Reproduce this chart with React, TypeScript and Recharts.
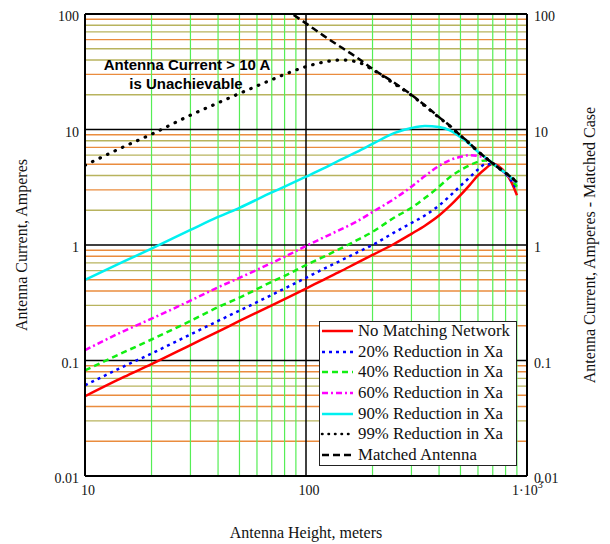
import { LineChart, Line, XAxis, YAxis, ReferenceLine } from 'recharts';

// antenna height (m)
const heights = [10, 15, 20, 30, 40, 50, 70, 80, 100, 120, 143, 170, 200, 250, 300, 345, 400, 450, 500, 550, 600, 650, 700, 750, 800, 850, 900];

// antenna current (A)
const noMatching = [0.049, 0.072, 0.093, 0.136, 0.178, 0.22, 0.3, 0.34, 0.42, 0.5, 0.59, 0.7, 0.82, 1.02, 1.25, 1.47, 1.8, 2.2, 2.7, 3.3, 4.0, 4.6, 5.05, 4.75, 4.2, 3.5, 2.7];
const reduce20 = [0.061, 0.089, 0.115, 0.168, 0.22, 0.27, 0.37, 0.42, 0.52, 0.62, 0.73, 0.86, 1.0, 1.28, 1.55, 1.8, 2.2, 2.68, 3.25, 3.85, 4.5, 5.0, 5.0, 4.6, 4.1, 3.6, 3.0];
const reduce40 = [0.082, 0.118, 0.152, 0.22, 0.29, 0.35, 0.48, 0.54, 0.67, 0.79, 0.93, 1.1, 1.3, 1.72, 2.1, 2.55, 3.2, 3.9, 4.45, 4.9, 5.25, 5.4, 5.0, 4.6, 4.15, 3.7, 3.2];
const reduce60 = [0.123, 0.18, 0.23, 0.33, 0.43, 0.52, 0.7, 0.79, 0.98, 1.16, 1.36, 1.6, 1.93, 2.5, 3.2, 3.95, 4.85, 5.45, 5.8, 6.0, 5.9, 5.6, 5.1, 4.6, 4.15, 3.75, 3.35];
const reduce90 = [0.5, 0.72, 0.93, 1.35, 1.75, 2.1, 2.85, 3.2, 3.9, 4.6, 5.45, 6.4, 7.5, 9.3, 10.3, 10.7, 10.5, 9.8, 8.6, 7.5, 6.4, 5.7, 5.1, 4.6, 4.2, 3.8, 3.45];
const reduce99 = [4.9, 7.1, 9.1, 13.3, 17, 20.5, 27, 30, 35, 38.3, 40, 38.5, 33, 25, 19.8, 16, 12.7, 10.6, 8.85, 7.55, 6.45, 5.7, 5.1, 4.6, 4.2, 3.85, 3.5];
const matched = [null, null, null, null, null, null, null, 111, 83, 65, 52, 42, 33.5, 25.5, 20, 16.2, 12.8, 10.7, 8.9, 7.6, 6.45, 5.7, 5.1, 4.6, 4.2, 3.85, 3.5];

const xTicks = [10, 100, 1000];
const yTicks = [0.01, 0.1, 1, 10, 100];

const data = heights.map((h, i) => ({
    h,
    noMatching: noMatching[i],
    reduce20: reduce20[i],
    reduce40: reduce40[i],
    reduce60: reduce60[i],
    reduce90: reduce90[i],
    reduce99: reduce99[i],
    matched: matched[i],
}));

const series = [
    { key: 'noMatching', name: 'No Matching Network', color: '#ff0000', dash: undefined, cap: 'butt', width: 2.5 },
    { key: 'reduce20', name: '20% Reduction in Xa', color: '#0000ff', dash: '3 4', cap: 'butt', width: 2.5 },
    { key: 'reduce40', name: '40% Reduction in Xa', color: '#11ee11', dash: '6 4', cap: 'butt', width: 2.5 },
    { key: 'reduce60', name: '60% Reduction in Xa', color: '#ff00ff', dash: '6 3 2 3', cap: 'butt', width: 2.5 },
    { key: 'reduce90', name: '90% Reduction in Xa', color: '#00f0f0', dash: undefined, cap: 'butt', width: 2.5 },
    { key: 'reduce99', name: '99% Reduction in Xa', color: '#000000', dash: '0.5 7.8', cap: 'round', width: 3.2 },
    { key: 'matched', name: 'Matched Antenna', color: '#000000', dash: '7 4', cap: 'butt', width: 2.5 },
];

const SERIF = '"Liberation Serif", "Times New Roman", serif';
const SANS = '"Liberation Sans", Arial, sans-serif';
const ORANGE = '#ea8c3e';
const OLIVE = '#b8b35e';
const GREEN = '#55ee55';

const minorX = [10, 100].flatMap((d) => [2, 3, 4, 5, 6, 7, 8, 9].map((m) => m * d));
const minorY = [0.01, 0.1, 1, 10].flatMap((d) =>
    [2, 3, 4, 5, 6, 7, 8, 9].map((m) => ({ v: +(m * d).toPrecision(3), m, d }))
);

// the source renders its minor lines in two tints
function minorColor(m: number, d: number) {
    if (d === 10) return m % 3 === 0 ? ORANGE : OLIVE;
    if (d === 1) return m % 2 === 0 ? OLIVE : ORANGE;
    return m === 3 || m === 6 || m === 7 ? OLIVE : ORANGE;
}

const LeftTick = ({ x, y, payload }: any) => (
    <text x={x} y={y + 7} textAnchor="end" fontFamily={SERIF} fontSize={14} fill="#111">
        {String(payload.value)}
    </text>
);

const RightTick = ({ x, y, payload }: any) => (
    <text x={x} y={y + 7} textAnchor="start" fontFamily={SERIF} fontSize={14} fill="#111">
        {String(payload.value)}
    </text>
);

const BottomTick = ({ x, y, payload }: any) => {
    if (payload.value === 1000) {
        return (
            <text x={x - 15} y={y + 19} textAnchor="start" fontFamily={SERIF} fontSize={14} fill="#111">
                1·10<tspan dy={-7} fontSize={10}>3</tspan>
            </text>
        );
    }
    return (
        <text x={x + 3} y={y + 19} textAnchor="middle" fontFamily={SERIF} fontSize={14} fill="#111">
            {String(payload.value)}
        </text>
    );
};

export default function App() {
    return (
        <div style={{ position: 'absolute', left: 0, top: 0, width: 610, height: 544, background: '#fff' }}>
            <LineChart width={610} height={544} data={data} margin={{ top: 14, left: 25, right: 33, bottom: 38 }}>
                <XAxis
                    dataKey="h"
                    type="number"
                    scale="log"
                    domain={[10, 1000]}
                    ticks={xTicks}
                    allowDataOverflow
                    height={30}
                    tickSize={0}
                    tickMargin={0}
                    tickLine={false}
                    axisLine={{ stroke: '#000', strokeWidth: 2 }}
                    tick={<BottomTick />}
                />
                <YAxis
                    yAxisId="left"
                    type="number"
                    scale="log"
                    domain={[0.01, 100]}
                    ticks={yTicks}
                    allowDataOverflow
                    width={60}
                    tickSize={0}
                    tickMargin={6}
                    tickLine={false}
                    axisLine={{ stroke: '#000', strokeWidth: 2 }}
                    tick={<LeftTick />}
                />
                <YAxis
                    yAxisId="right"
                    orientation="right"
                    type="number"
                    scale="log"
                    domain={[0.01, 100]}
                    ticks={yTicks}
                    allowDataOverflow
                    width={50}
                    tickSize={0}
                    tickMargin={7}
                    tickLine={false}
                    axisLine={{ stroke: '#000', strokeWidth: 2 }}
                    tick={<RightTick />}
                />

                {minorY.map((g) => (
                    <ReferenceLine key={`hy-${g.v}`} yAxisId="left" y={g.v} stroke={minorColor(g.m, g.d)} strokeWidth={1.4} />
                ))}
                {minorX.map((v) => (
                    <ReferenceLine key={`vx-${v}`} yAxisId="left" x={v} stroke={GREEN} strokeWidth={1.2} />
                ))}
                {[0.1, 1, 10].map((v) => (
                    <ReferenceLine key={`maj-${v}`} yAxisId="left" y={v} stroke="#000" strokeWidth={1.5} />
                ))}
                <ReferenceLine yAxisId="left" x={100} stroke="#000" strokeWidth={1.5} />

                {series.map((s) => (
                    <Line
                        key={s.key}
                        yAxisId="left"
                        dataKey={s.key}
                        name={s.name}
                        type="monotone"
                        stroke={s.color}
                        strokeWidth={s.width}
                        strokeDasharray={s.dash}
                        strokeLinecap={s.cap as any}
                        dot={false}
                        activeDot={false}
                        isAnimationActive={false}
                    />
                ))}

                <ReferenceLine yAxisId="left" y={100} stroke="#000" strokeWidth={2} />
            </LineChart>

            <svg width={610} height={544} style={{ position: 'absolute', left: 0, top: 0, pointerEvents: 'none' }}>
                <text x={187} y={70} textAnchor="middle" fontFamily={SANS} fontWeight="bold" fontSize={15} fill="#000">
                    Antenna Current &gt; 10 A
                </text>
                <text x={186} y={89} textAnchor="middle" fontFamily={SANS} fontWeight="bold" fontSize={15} fill="#000">
                    is Unachievable
                </text>
                <text x={306} y={538} textAnchor="middle" fontFamily={SERIF} fontSize={16} fill="#111">
                    Antenna Height, meters
                </text>
                <text x={27} y={245} transform="rotate(-90, 27, 245)" textAnchor="middle" fontFamily={SERIF} fontSize={16} fill="#111">
                    Antenna Current, Amperes
                </text>
                <text x={595} y={245} transform="rotate(-90, 595, 245)" textAnchor="middle" fontFamily={SERIF} fontSize={16} fill="#111">
                    Antenna Current, Amperes - Matched Case
                </text>
            </svg>

            <div
                style={{
                    position: 'absolute',
                    left: 319,
                    top: 321,
                    width: 196,
                    height: 143,
                    background: '#fff',
                    border: '1px solid #222',
                    fontFamily: SERIF,
                    fontSize: 16.8,
                    color: '#111',
                }}
            >
                <div style={{ marginTop: -1 }}>
                    {series.map((s) => (
                        <div key={s.key} style={{ height: 20.6, display: 'flex', alignItems: 'center', whiteSpace: 'nowrap' }}>
                            <svg width={36} height={8}>
                                <line
                                    x1={2}
                                    y1={4}
                                    x2={33}
                                    y2={4}
                                    stroke={s.color}
                                    strokeWidth={2.5}
                                    strokeDasharray={s.dash === '0.5 7.8' ? '0.5 6' : s.dash}
                                    strokeLinecap={s.cap as any}
                                />
                            </svg>
                            <span style={{ marginLeft: 2 }}>{s.name}</span>
                        </div>
                    ))}
                </div>
            </div>
        </div>
    );
}
